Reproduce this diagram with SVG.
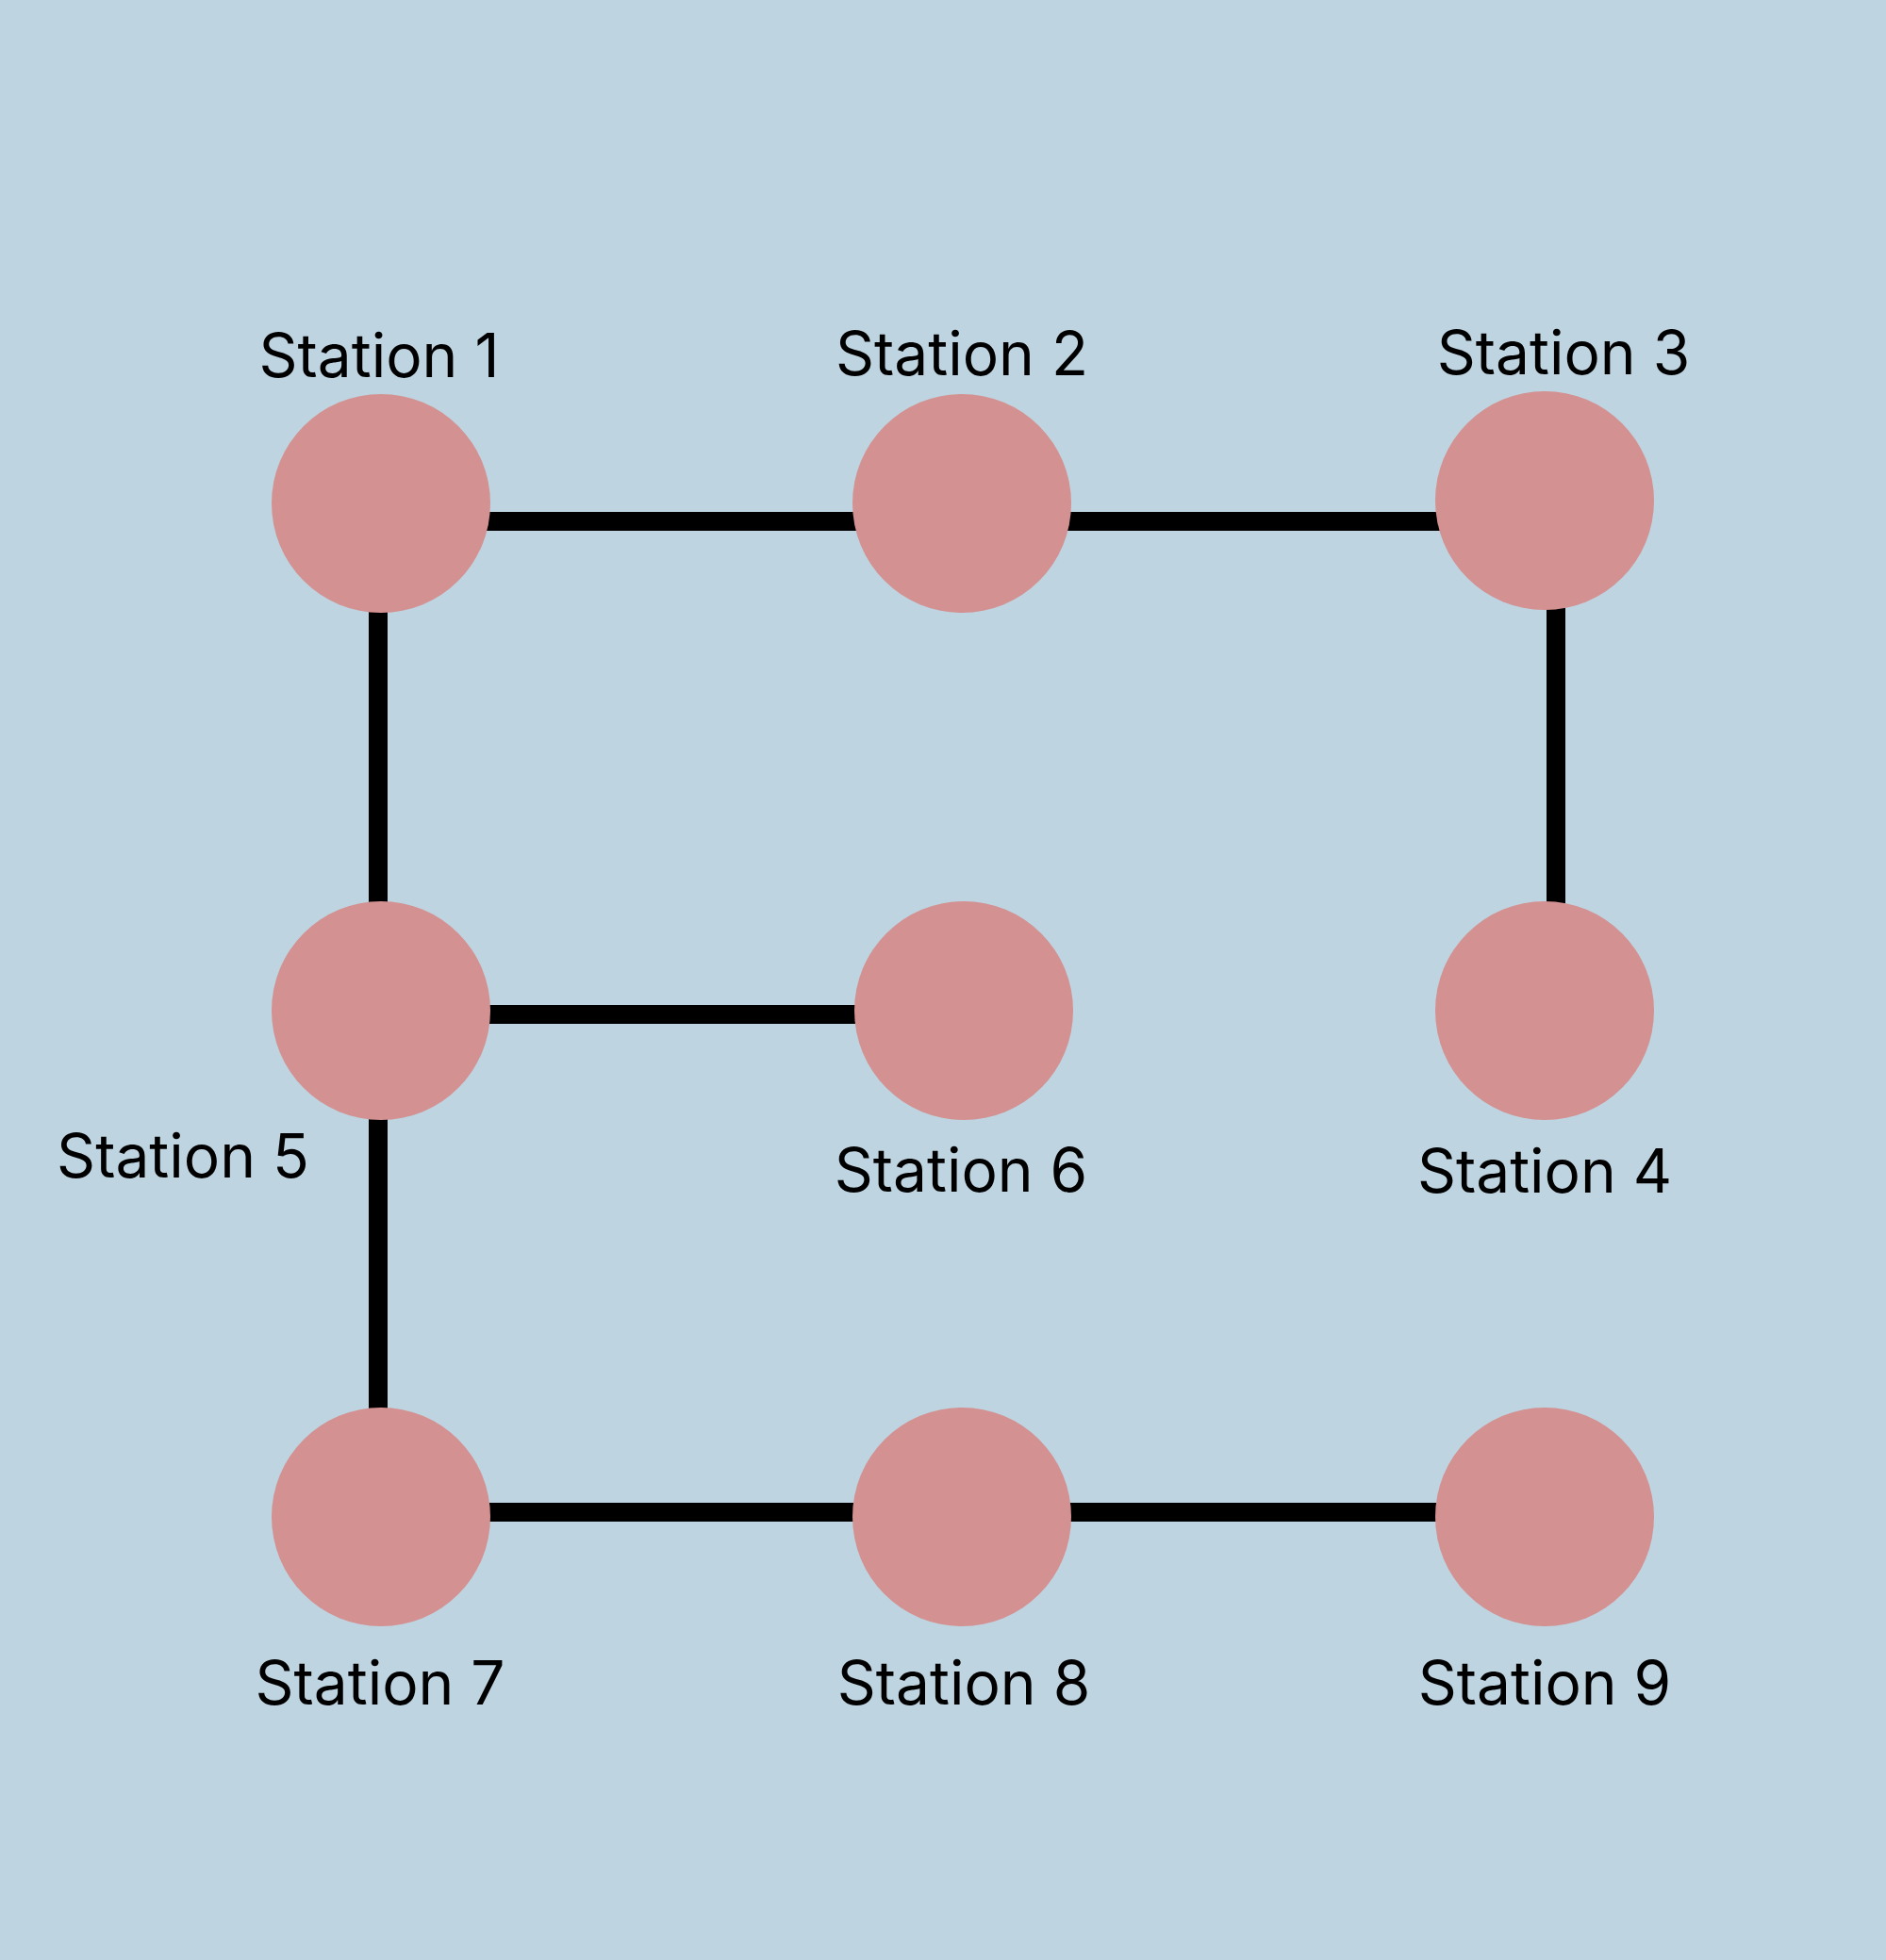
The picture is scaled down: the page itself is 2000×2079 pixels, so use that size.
<svg xmlns="http://www.w3.org/2000/svg" width="2000" height="2079" viewBox="0 0 2000 2079">
<style>
.edge{stroke:#000;stroke-width:20;fill:none}
.st{fill:#D39191}
.lbl{font-family:Inter,"Liberation Sans",sans-serif;font-size:64px;fill:#000;text-anchor:middle}
</style>
<rect width="2000" height="2079" fill="#BED4E1"/>
<g id="connectors">
<line class="edge" x1="404" y1="553" x2="1020" y2="553"/>
<line class="edge" x1="1020" y1="553" x2="1638" y2="553"/>
<line class="edge" x1="1650" y1="531" x2="1650" y2="1072"/>
<line class="edge" x1="401" y1="534" x2="401" y2="1072"/>
<line class="edge" x1="404" y1="1076" x2="1022" y2="1076"/>
<line class="edge" x1="401" y1="1072" x2="401" y2="1609"/>
<line class="edge" x1="404" y1="1604" x2="1020" y2="1604"/>
<line class="edge" x1="1020" y1="1604" x2="1638" y2="1604"/>
</g>
<g id="station1"><circle class="st" cx="404" cy="534" r="116"/><text class="lbl" x="402" y="400">Station 1</text></g>
<g id="station2"><circle class="st" cx="1020" cy="534" r="116"/><text class="lbl" x="1020" y="398">Station 2</text></g>
<g id="station3"><circle class="st" cx="1638" cy="531" r="116"/><text class="lbl" x="1658" y="397">Station 3</text></g>
<g id="station4"><circle class="st" cx="1638" cy="1072" r="116"/><text class="lbl" x="1638" y="1265">Station 4</text></g>
<g id="station5"><circle class="st" cx="404" cy="1072" r="116"/><text class="lbl" x="194" y="1249">Station 5</text></g>
<g id="station6"><circle class="st" cx="1022" cy="1072" r="116"/><text class="lbl" x="1019" y="1264">Station 6</text></g>
<g id="station7"><circle class="st" cx="404" cy="1609" r="116"/><text class="lbl" x="403" y="1808">Station 7</text></g>
<g id="station8"><circle class="st" cx="1020" cy="1609" r="116"/><text class="lbl" x="1022" y="1808">Station 8</text></g>
<g id="station9"><circle class="st" cx="1638" cy="1609" r="116"/><text class="lbl" x="1638" y="1808">Station 9</text></g>
</svg>
